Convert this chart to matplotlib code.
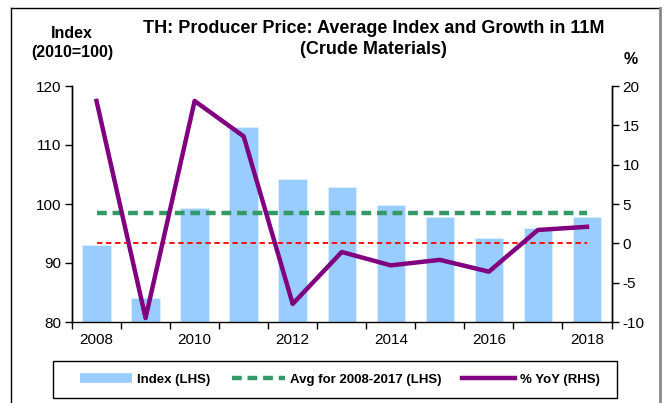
import matplotlib
matplotlib.use("Agg")
import matplotlib.pyplot as plt
from matplotlib.lines import Line2D
from matplotlib.patches import Rectangle
import numpy as np

plt.rcParams['font.family'] = ['Liberation Sans', 'DejaVu Sans']
plt.rcParams['axes.unicode_minus'] = False

years = [2008, 2009, 2010, 2011, 2012, 2013, 2014, 2015, 2016, 2017, 2018]
index_vals = [93.0, 84.1, 99.4, 113.0, 104.2, 102.9, 99.9, 97.8, 94.3, 96.0, 97.8]
yoy_vals = [18.1, -9.5, 18.1, 13.6, -7.7, -1.1, -2.8, -2.1, -3.6, 1.7, 2.1]
avg_label = 'Avg for 2008-2017 (LHS)'
avg_val = np.mean(index_vals[:10])

W, H = 668, 403
fig = plt.figure(figsize=(W / 100, H / 100), dpi=100)

# outer frame like the screenshot
fig.add_artist(Line2D([11 / W, 11 / W], [0, 1 - 8 / H], color='black', lw=1))
fig.add_artist(Line2D([11 / W, 660 / W], [1 - 8 / H, 1 - 8 / H], color='black', lw=1))
fig.add_artist(Line2D([660 / W, 660 / W], [0, 1 - 8 / H], color='#888888', lw=2))

ax = fig.add_axes([72 / W, 81 / H, 539.5 / W, 236 / H])
x = np.arange(len(years))

ax.bar(x, index_vals, width=0.58, color='#99CCFF', edgecolor='#DDEEFF', linewidth=0.6, zorder=1)
ax.plot([x[0], x[-1]], [avg_val, avg_val], color='#339966', lw=3.2, dashes=(2.2, 1.3), zorder=3)
ax.set_ylim(80, 120)
ax.set_yticks(range(80, 121, 10))
ax.set_xlim(-0.5, len(years) - 0.5)

ax2 = ax.twinx()
ax2.plot([x[0], x[-1]], [0, 0], color='#FF0000', lw=1.3, dashes=(3, 2), zorder=2)
ax2.plot(x, yoy_vals, color='#800080', lw=3.2, zorder=4)
ax2.set_ylim(-10, 20)
ax2.set_yticks(range(-10, 21, 5))

# category axis: ticks between categories, labels every other year
ax.set_xticks(np.arange(-0.5, len(years), 1))
ax.set_xticklabels([])
ax.set_xticks(x[::2], minor=True)
ax.set_xticklabels([str(y) for y in years[::2]], minor=True)
ax.tick_params(axis='x', which='major', direction='out', length=5, width=1)
ax.tick_params(axis='x', which='minor', length=0, pad=8, labelsize=11)
ax.tick_params(axis='y', direction='out', length=5, width=1, labelsize=11, pad=3)
ax2.tick_params(axis='y', direction='out', length=5, width=1, labelsize=11, pad=3)

for a in (ax, ax2):
    a.spines['top'].set_visible(False)
    for s in ('left', 'right', 'bottom'):
        a.spines[s].set_linewidth(1)
ax2.spines['bottom'].set_visible(False)

fig.text(373.5 / W, 1 - 28.5 / H, 'TH: Producer Price: Average Index and Growth in 11M',
         ha='center', va='center', fontsize=13, fontweight='bold')
fig.text(373.5 / W, 1 - 49 / H, '(Crude Materials)',
         ha='center', va='center', fontsize=13, fontweight='bold')
fig.text(72 / W, 1 - 34 / H, 'Index', ha='center', va='center', fontsize=11.5, fontweight='bold')
fig.text(72 / W, 1 - 53 / H, '(2010=100)', ha='center', va='center', fontsize=11.5, fontweight='bold')
fig.text(631 / W, 1 - 59 / H, '%', ha='center', va='center', fontsize=11.5, fontweight='bold')

handles = [
    Line2D([], [], color='#99CCFF', lw=7, solid_capstyle='butt'),
    Line2D([], [], color='#339966', lw=3.2, dashes=(2.2, 1.3)),
    Line2D([], [], color='#800080', lw=3.2),
]
labels = ['Index (LHS)', avg_label, '% YoY (RHS)']
fig.legend(handles, labels, loc='center', ncol=3,
           bbox_to_anchor=(339.7 / W, 1 - 379.6 / H),
           prop={'weight': 'bold', 'size': 9.5}, frameon=False,
           handlelength=4.0, handletextpad=0.38, columnspacing=1.6)
fig.add_artist(Rectangle((53.3 / W, 1 - 398.3 / H), 563.4 / W, 37.3 / H,
                         transform=fig.transFigure, fill=False, edgecolor='black', lw=1))

fig.savefig('out.png', dpi=100)
